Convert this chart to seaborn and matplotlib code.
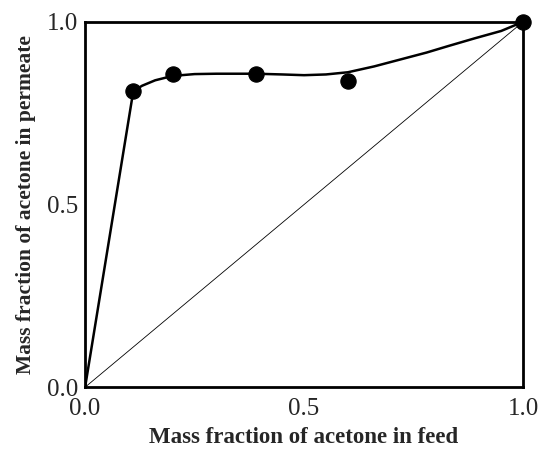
import numpy as np
import pandas as pd
import seaborn as sns
import matplotlib.pyplot as plt

# measured data (feed fraction vs permeate fraction)
feed = [0.11, 0.20, 0.39, 0.60, 1.00]
permeate = [0.81, 0.858, 0.858, 0.837, 1.00]

# fitted curve
curve_x = [0.0, 0.11, 0.13, 0.16, 0.20, 0.25, 0.30, 0.39, 0.45, 0.50, 0.55, 0.60, 0.66, 0.72, 0.78, 0.83, 0.89, 0.95, 1.00]
curve_y = [0.0, 0.81, 0.825, 0.840, 0.852, 0.857, 0.858, 0.858, 0.856, 0.854, 0.856, 0.862, 0.878, 0.897, 0.916, 0.934, 0.955, 0.975, 1.00]

diag = [0.0, 1.0]
ticks = [0.0, 0.5, 1.0]

sns.set_style("white")
plt.rcParams['font.family'] = ['Liberation Serif', 'DejaVu Serif']

fig = plt.figure(figsize=(5.42, 4.55), dpi=100)
ax = fig.add_axes([0.157, 0.149, 0.808, 0.803])

pts = pd.DataFrame({'feed': feed, 'permeate': permeate})
cur = pd.DataFrame({'x': curve_x, 'y': curve_y})

sns.lineplot(x=diag, y=diag, ax=ax, color='black', linewidth=0.6)
sns.lineplot(data=cur, x='x', y='y', ax=ax, color='black', linewidth=1.8, sort=False)
sns.scatterplot(data=pts, x='feed', y='permeate', ax=ax, color='black', s=120,
                edgecolor='black', zorder=5, clip_on=False)

ax.set_xlim(0, 1)
ax.set_ylim(0, 1)
ax.set_xticks(ticks)
ax.set_yticks(ticks)
ax.set_xticklabels(['0.0', '0.5', '1.0'])
ax.set_yticklabels(['0.0', '0.5', '1.0'])
ax.tick_params(direction='in', length=5, width=1.5, labelsize=18)
ax.tick_params(axis='x', pad=8)
ax.tick_params(axis='y', pad=5)
for s in ax.spines.values():
    s.set_linewidth(2)
    s.set_color('black')

ax.set_xlabel('Mass fraction of acetone in feed', fontsize=16.5, fontweight='bold', labelpad=5)
ax.set_ylabel('Mass fraction of acetone in permeate', fontsize=15.5, fontweight='bold', labelpad=8)

plt.savefig('out.png', dpi=100)
